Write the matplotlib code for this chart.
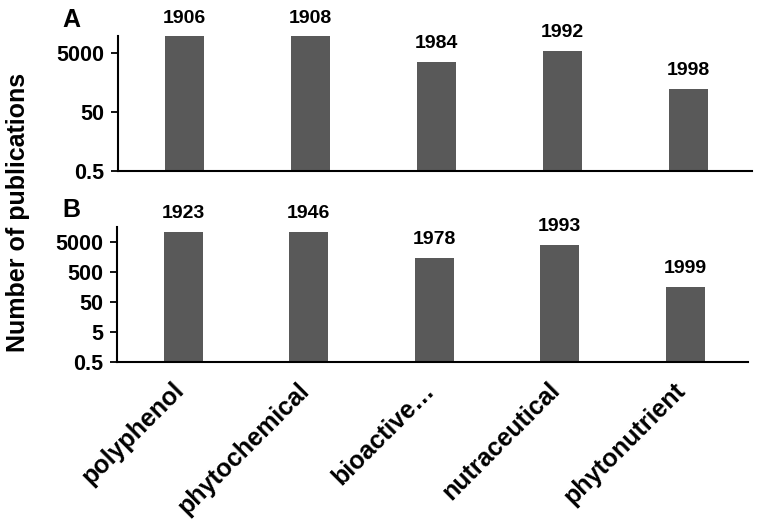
import matplotlib.pyplot as plt
import matplotlib.transforms as mtransforms
import numpy as np

plt.rcParams['font.family'] = ['Liberation Sans', 'DejaVu Sans']
plt.rcParams['font.weight'] = 'bold'

# Data
terms = ['polyphenol', 'phytochemical', 'bioactive…', 'nutraceutical', 'phytonutrient']
counts_a = [18500, 18500, 2480, 5850, 301]
years_a = ['1906', '1908', '1984', '1992', '1998']
counts_b = [10800, 10800, 1460, 3970, 158]
years_b = ['1923', '1946', '1978', '1993', '1999']

ticks_a = [0.5, 50, 5000]
ticks_b = [0.5, 5, 50, 500, 5000]

bar_color = '#595959'

fig = plt.figure(figsize=(7.6, 5.23), dpi=100)
ax_a = fig.add_axes([0.155, 0.673, 0.834, 0.258])
ax_b = fig.add_axes([0.154, 0.308, 0.830, 0.258])

x = np.arange(len(terms))


def draw_panel(ax, counts, years, ticks, ymax, letter, letter_y):
    ax.bar(x, counts, width=0.31, color=bar_color)
    ax.set_yscale('log')
    ax.set_ylim(0.5, ymax)
    ax.set_xlim(-0.53, 4.5)
    ax.set_yticks(ticks)
    ax.set_yticklabels([('%g' % t) for t in ticks])
    ax.yaxis.set_minor_locator(plt.NullLocator())
    ax.tick_params(axis='y', direction='out', length=5, width=1.3,
                   labelsize=15.5, pad=5)
    ax.tick_params(axis='x', length=0)
    for s in ['top', 'right']:
        ax.spines[s].set_visible(False)
    ax.spines['left'].set_linewidth(1.5)
    ax.spines['bottom'].set_linewidth(1.5)
    for xi, c, yr in zip(x, counts, years):
        ax.annotate(yr, (xi, min(c, ymax)), xytext=(0, 7),
                    textcoords='offset points', ha='center', va='bottom',
                    fontsize=14, fontweight='bold', annotation_clip=False)
    ax.text(-0.087, letter_y, letter, transform=ax.transAxes, fontsize=18,
            fontweight='bold', ha='left', va='baseline')


draw_panel(ax_a, counts_a, years_a, ticks_a, 18800, 'A', 1.067)
draw_panel(ax_b, counts_b, years_b, ticks_b, 15800, 'B', 1.074)

ax_a.set_xticks(x)
ax_a.set_xticklabels([])
ax_b.set_xticks(x)
ax_b.set_xticklabels(terms, rotation=45, ha='right', va='top',
                     rotation_mode='anchor', fontsize=18, fontweight='bold')
ax_b.tick_params(axis='x', pad=16)
shift = mtransforms.ScaledTranslation(-0.12, 0.06, fig.dpi_scale_trans)
for lbl in ax_b.get_xticklabels():
    lbl.set_transform(lbl.get_transform() + shift)

fig.text(0.024, 0.593, 'Number of publications', rotation=90, ha='center',
         va='center', fontsize=18, fontweight='bold')

fig.savefig('out.png', dpi=100)
